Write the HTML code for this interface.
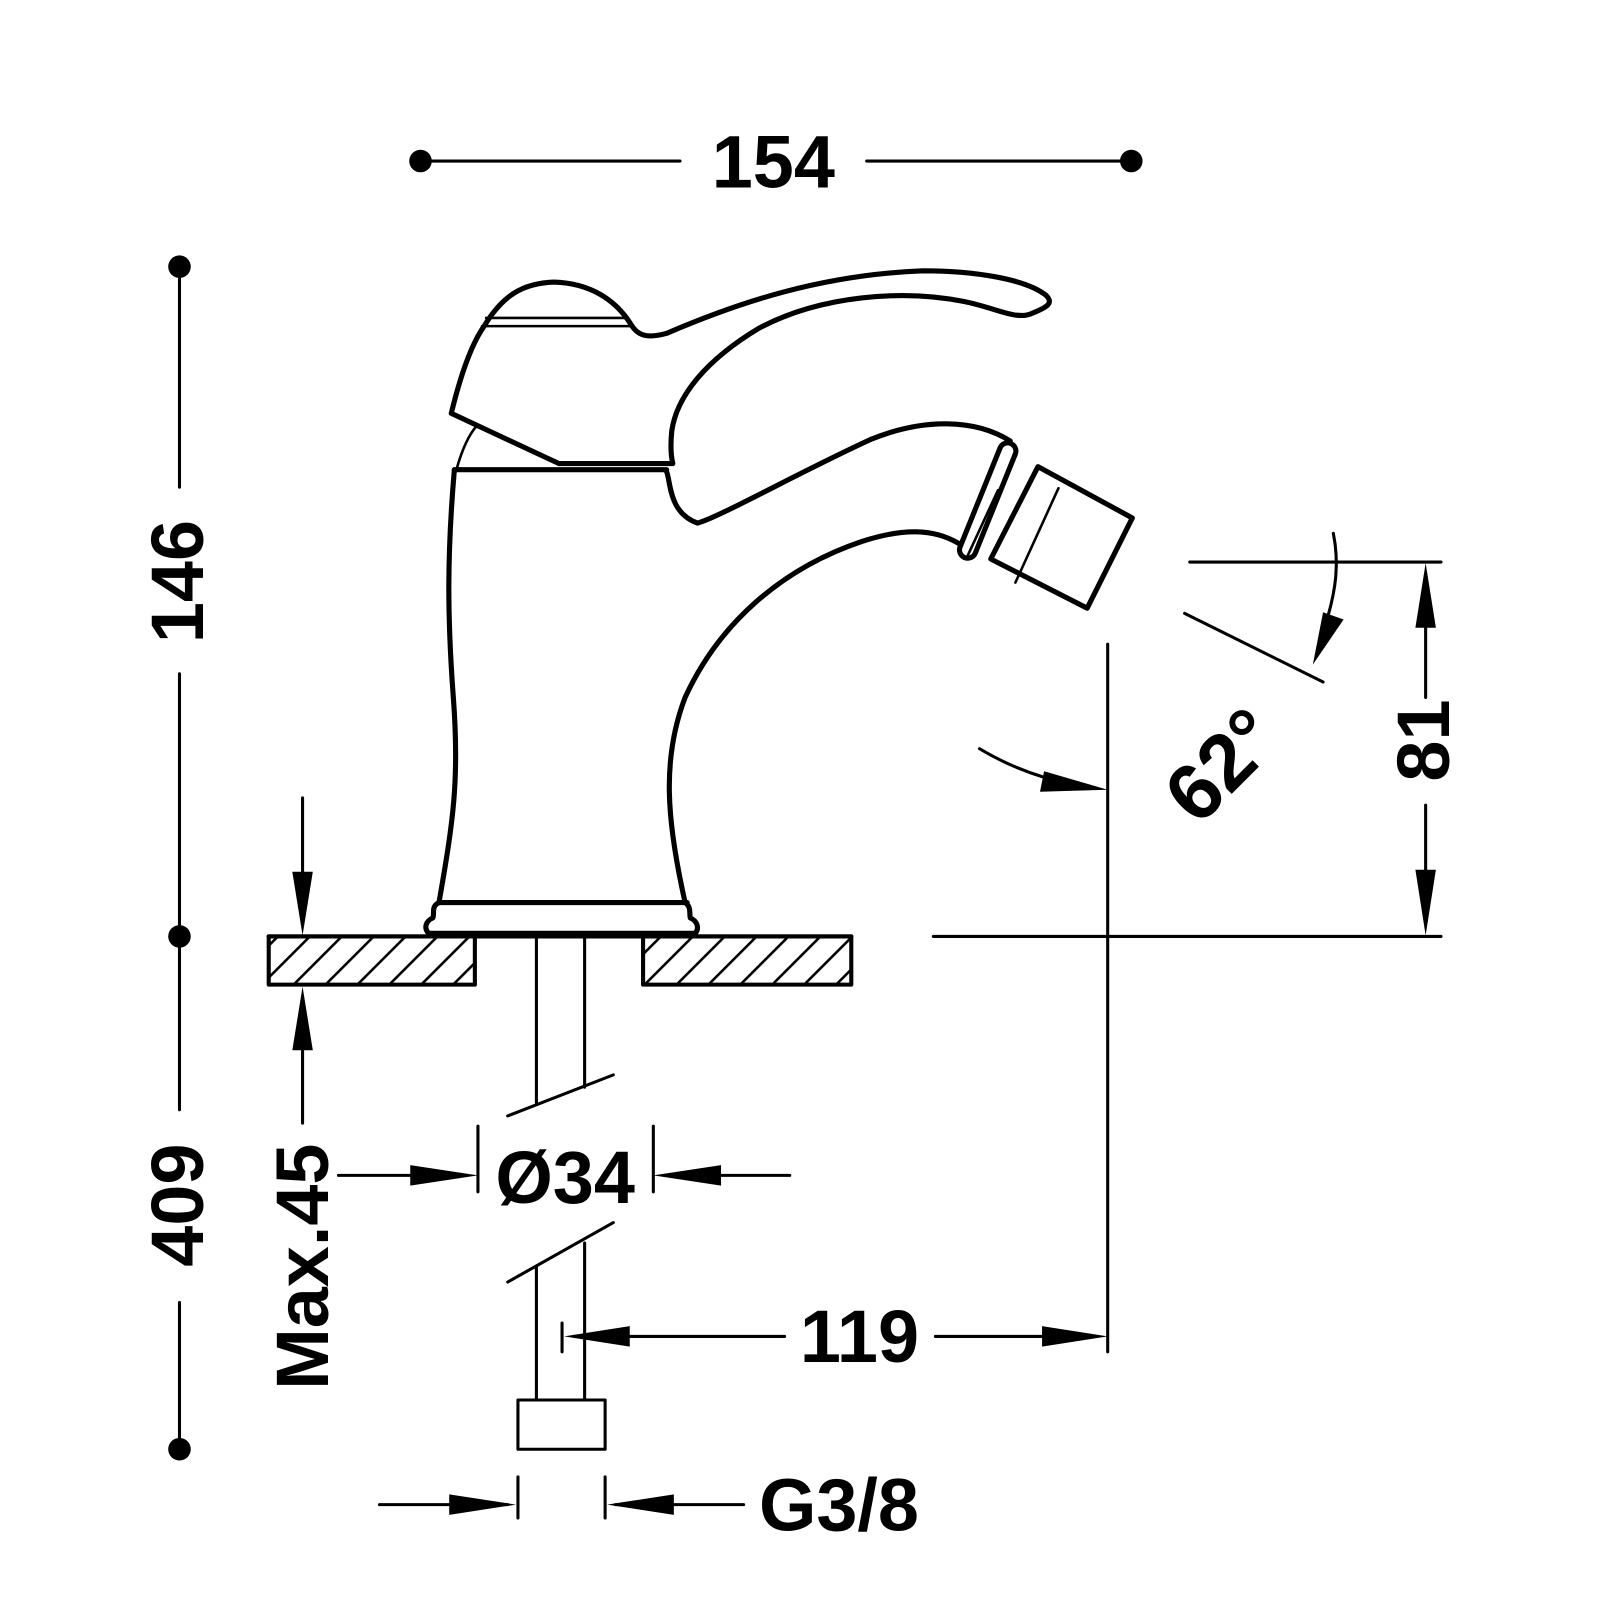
<!DOCTYPE html>
<html><head><style>html,body{margin:0;padding:0;background:#fff}svg{display:block}</style></head>
<body>
<svg width="1600" height="1600" viewBox="0 0 1560 1560" xmlns="http://www.w3.org/2000/svg">
<defs>
<pattern id="h" width="22" height="22" patternUnits="userSpaceOnUse" patternTransform="rotate(45)">
<line x1="0" y1="0" x2="0" y2="22" stroke="#000" stroke-width="5"/></pattern>
</defs>
<g fill="none" stroke="#000" stroke-linecap="round" stroke-linejoin="round">
<!-- faucet -->
<g stroke-width="5">
<path d="M440,403 C448,370 458,338 472,318 C490,288 510,276 540,275 C575,276 600,292 615,316 C622,328 632,330 650,325 C720,295 800,268 900,264 C950,264 1000,272 1020,288 C1028,296 1020,300 1005,306 C990,312 970,300 940,294 C880,282 800,288 740,320 C690,350 660,385 655,420 C653,440 655,448 656,452 L545,452 Z"/>
<path d="M443,458 L650,458"/>
<path d="M443,458 C436,540 436,600 442,680 C448,760 442,800 428,880"/>
<path d="M650,460 C654,470 652,500 680,510 C700,505 780,460 850,428 C900,408 950,408 985,430"/>
<path d="M935,530 C910,515 880,515 840,528 C760,555 700,610 668,680 C645,740 650,800 668,880"/>
<path d="M428,880 L670,880"/>
<path d="M428,880 C420,884 424,890 422,895 C415,898 413,905 418,910 L678,910 C682,905 680,898 673,895 C672,890 674,884 668,880"/>
<rect x="-8" y="-60" width="16" height="120" rx="8" transform="translate(963,488) rotate(22)"/>
<path d="M1012,455 L1104,505 L1060,593 L966,545 Z"/>
</g>
<g stroke-width="2.5">
<path d="M474,310 L612,310"/><path d="M470,318 L615,318"/>
<path d="M545,452 L655,452"/>
<path d="M445,458 C450,440 456,425 465,415"/>
<path d="M1032,476 L990,568"/>
<path d="M973,478 L942,545"/>
</g>
<!-- counter -->
<rect x="262" y="913" width="201" height="47" fill="url(#h)" stroke-width="4"/>
<rect x="627" y="913" width="203" height="47" fill="url(#h)" stroke-width="4"/>
<path d="M262,913 L830,913" stroke-width="4"/>
<!-- pipe -->
<g stroke-width="3">
<path d="M523,913 L523,1075 M570,913 L570,1060 M495,1088 L598,1048"/>
<path d="M495,1250 L598,1192 M523,1235 L523,1365 M570,1212 L570,1365"/>
<rect x="505" y="1365" width="85" height="48"/>
<!-- dims -->
<path d="M410,157 L663,157 M845,157 L1103,157"/>
<path d="M175,260 L175,475 M175,657 L175,913 L175,1082 M175,1270 L175,1413"/>
<path d="M295,778 L295,900 M295,975 L295,1095"/>
<path d="M466,1098 L466,1162 M637,1098 L637,1162 M330,1146 L455,1146 M648,1146 L770,1146"/>
<path d="M548,1290 L548,1318 M560,1303 L765,1303 M912,1303 L1068,1303 M1080,628 L1080,1318"/>
<path d="M505,1440 L505,1480 M590,1440 L590,1480 M370,1467 L495,1467 M600,1467 L725,1467"/>
<path d="M910,913 L1405,913 M1160,548 L1405,548 M1390,560 L1390,680 M1390,785 L1390,900"/>
<path d="M1155,598 L1290,665"/>
<path d="M1300,520 C1306,550 1302,575 1295,600"/>
<path d="M955,730 C980,745 1010,758 1050,766"/>
</g>
</g>
<g fill="#000">
<circle cx="410" cy="157" r="11"/><circle cx="1103" cy="157" r="11"/>
<circle cx="175" cy="260" r="11"/><circle cx="175" cy="913" r="11"/><circle cx="175" cy="1413" r="11"/>
<polygon points="295,912 285,850 305,850"/><polygon points="295,962 285,1024 305,1024"/>
<polygon points="466,1146 400,1136 400,1156"/><polygon points="637,1146 703,1136 703,1156"/>
<polygon points="550,1303 614,1293 614,1313"/><polygon points="1080,1303 1016,1293 1016,1313"/>
<polygon points="503,1467 438,1457 438,1477"/><polygon points="592,1467 657,1457 657,1477"/>
<polygon points="1390,549 1380,612 1400,612"/><polygon points="1390,912 1380,848 1400,848"/>
<polygon points="1280,648 1290,597 1310,604"/>
<polygon points="1080,770 1018,752 1014,772"/>
</g>
<g font-family="Liberation Sans, sans-serif" font-weight="bold" font-size="72" fill="#000" text-anchor="middle">
<text x="754" y="183">154</text>
<text transform="translate(198,567) rotate(-90)">146</text>
<text transform="translate(198,1175) rotate(-90)">409</text>
<text transform="translate(320,1235) rotate(-90)">Max.45</text>
<text x="551" y="1173">Ø34</text>
<text x="838" y="1328">119</text>
<text x="818" y="1492">G3/8</text>
<text transform="translate(1413,722) rotate(-90)">81</text>
<text transform="translate(1210,765) rotate(-45)" font-size="78">62°</text>
</g>
</svg>
</body></html>
